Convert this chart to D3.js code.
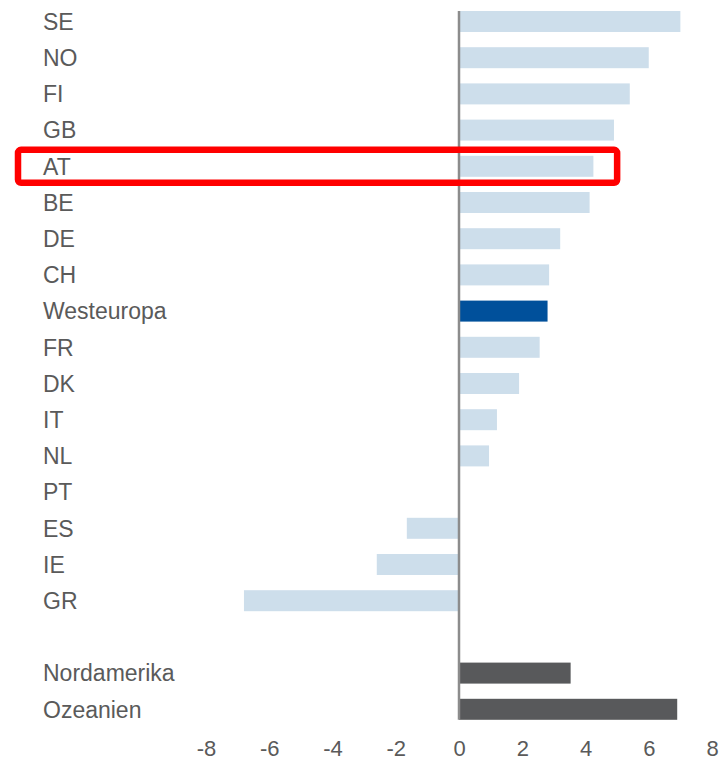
<!DOCTYPE html>
<html>
<head>
<meta charset="utf-8">
<script src="https://cdn.jsdelivr.net/npm/d3@7"></script>
<style>
  body { margin: 0; background: #fff; }
  svg text { font-family: "Liberation Sans", Arial, sans-serif; fill: #5a5a5a; }
</style>
</head>
<body>
<div id="chart"></div>
<script>
// data
let countries = ["SE", "NO", "FI", "GB", "AT", "BE", "DE", "CH", "Westeuropa", "FR", "DK", "IT", "NL", "PT", "ES", "IE", "GR", "", "Nordamerika", "Ozeanien"];
let values = [7.0, 6.0, 5.4, 4.9, 4.25, 4.13, 3.2, 2.85, 2.8, 2.55, 1.9, 1.2, 0.95, 0, -1.65, -2.6, -6.8, null, 3.53, 6.9];
let groups = ["c", "c", "c", "c", "c", "c", "c", "c", "w", "c", "c", "c", "c", "c", "c", "c", "c", "", "r", "r"];
let xTicks = [-8, -6, -4, -2, 0, 2, 4, 6, 8];
let highlighted = "AT";

let colors = {c: "#cddeeb", w: "#00509b", r: "#58595b"};

let width = 722, height = 767;

let svg = d3.select("#chart").append("svg")
    .attr("width", width)
    .attr("height", height);

let data = countries.map(function (d, i) {
    return {name: d, value: values[i], group: groups[i]};
});

// scales
let x = d3.scaleLinear()
    .domain([-8, 8])
    .range([206, 712]);

let y = d3.scaleBand()
    .domain(countries)
    .range([3.4, 727.4])
    .paddingInner(0.42)
    .paddingOuter(0.21);

// bars
svg.selectAll(".bar")
    .data(data.filter(d => d.value !== null))
    .enter().append("rect")
    .attr("class", "bar")
    .attr("x", d => x(Math.min(0, d.value)))
    .attr("y", d => y(d.name))
    .attr("width", d => Math.abs(x(d.value) - x(0)))
    .attr("height", y.bandwidth())
    .attr("fill", d => colors[d.group]);

// zero line
svg.append("line")
    .attr("x1", x(0)).attr("x2", x(0))
    .attr("y1", y("SE"))
    .attr("y2", y("Ozeanien") + y.bandwidth())
    .attr("stroke", "#8c8c8c")
    .attr("stroke-width", 2.5);

// category labels
svg.selectAll(".cat")
    .data(data.filter(d => d.name !== ""))
    .enter().append("text")
    .attr("class", "cat")
    .attr("x", 43)
    .attr("y", d => y(d.name) + y.bandwidth() / 2)
    .attr("dy", "0.36em")
    .style("font-size", "23px")
    .text(d => d.name);

// x axis, plain hyphen as minus like the original
let xAxis = d3.axisBottom(x)
    .tickValues(xTicks)
    .tickSize(0)
    .tickPadding(0)
    .tickFormat(d => String(d));

let axisG = svg.append("g")
    .attr("class", "x-axis")
    .attr("transform", "translate(0,740)")
    .call(xAxis);

axisG.select(".domain").remove();
axisG.selectAll("text")
    .style("font-size", "22px")
    .style("font-family", "'Liberation Sans', Arial, sans-serif")
    .attr("fill", "#5a5a5a");

// red highlight box round AT
svg.append("rect")
    .attr("x", 18)
    .attr("y", y(highlighted) - 6)
    .attr("width", x(5) - 18)
    .attr("height", y.bandwidth() + 12)
    .attr("rx", 3)
    .attr("fill", "none")
    .attr("stroke", "#ff0000")
    .attr("stroke-width", 6.5);
</script>
</body>
</html>
